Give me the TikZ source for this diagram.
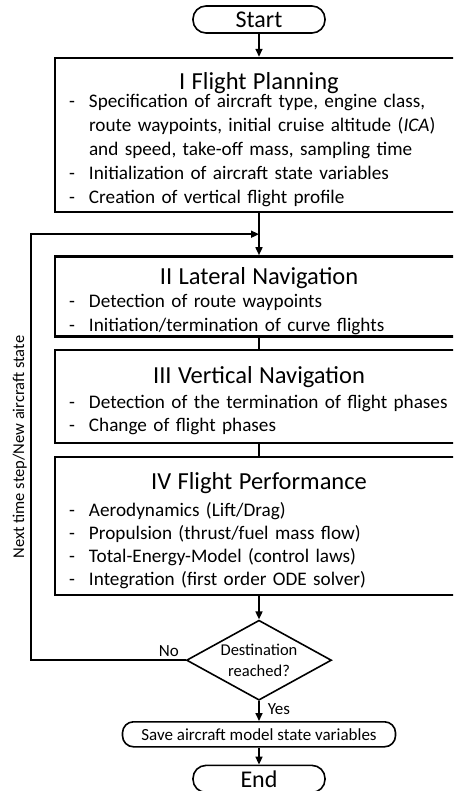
\documentclass[tikz,border=0pt]{standalone}
\usepackage{fontspec}
\setmainfont{Carlito}
\usetikzlibrary{arrows.meta,positioning,shapes.geometric}
\newcommand{\stagetitle}[2][0pt]{{\centering\fontsize{24.5}{24.5}\selectfont\rule{0pt}{26pt}#2\par}\vskip#1}
\newcommand{\stageitem}[1]{\par\hangindent=27pt\hangafter=1\noindent\makebox[27pt][l]{\hspace{7pt}-}#1}
\tikzset{
  stage/.style={
    draw,
    line width=2.4pt,
    text width=394pt,
    inner xsep=7pt,
    inner ysep=0pt,
    align=left,
    font=\fontsize{19.2}{24}\selectfont
  },
  terminal/.style={
    draw,
    line width=1.6pt,
    rounded corners=13pt,
    minimum width=132pt,
    minimum height=27pt,
    inner sep=0pt,
    font=\fontsize{24}{24}\selectfont
  },
  decision/.style={
    diamond,
    draw,
    line width=1.6pt,
    aspect=1.81,
    minimum width=145pt,
    minimum height=80pt,
    inner sep=0pt,
    align=center,
    font=\fontsize{16.5}{21}\selectfont
  },
  note/.style={
    font=\fontsize{17}{19}\selectfont,
    inner sep=3pt
  },
  flow/.style={
    -{Triangle[length=8pt,width=7pt]},
    line width=1.6pt
  },
  link/.style={
    line width=1.6pt
  }
}

\begin{document}
\begin{tikzpicture}[x=1pt,y=-1pt]
\clip (0,0) rectangle (453,791);
\node[terminal] (start) at (259,19.5) {Start};
\node[stage, minimum height=154pt, below=23pt of start] (plan) {%
  \stagetitle[-5.5pt]{I Flight Planning}
  \stageitem{Specification of aircraft type, engine class,\newline
    route waypoints, initial cruise altitude (\textit{ICA})\newline
    and speed, take-off mass, sampling time}
  \stageitem{Initialization of aircraft state variables}
  \stageitem{Creation of vertical flight profile}};
\node[stage, minimum height=80pt, below=42pt of plan] (lateral) {%
  \stagetitle[-1pt]{II Lateral Navigation}
  \stageitem{Detection of route waypoints}
  \stageitem{Initiation/termination of curve flights}};
\node[stage, minimum height=93pt, below=11pt of lateral,
  font=\fontsize{19.2}{23}\selectfont] (vertical) {%
  \stagetitle[2pt]{III Vertical Navigation}
  \stageitem{Detection of the termination of flight phases}
  \stageitem{Change of flight phases}};
\node[stage, minimum height=138pt, below=12pt of vertical,
  font=\fontsize{19.2}{23}\selectfont] (perf) {%
  \stagetitle[4pt]{IV Flight Performance}
  \stageitem{Aerodynamics (Lift/Drag)}
  \stageitem{Propulsion (thrust/fuel mass flow)}
  \stageitem{Total-Energy-Model (control laws)}
  \stageitem{Integration (first order ODE solver)}};
\node[decision, below=23pt of perf] (check) {Destination\\reached?};
\node[terminal, rounded corners=11pt, minimum width=273pt, minimum height=25pt,
  font=\fontsize{17}{19}\selectfont, below=20pt of check] (save) {Save aircraft model state variables};
\node[terminal, below=17pt of save] (end) {End};

% main sequence
\path (plan.south) -- (lateral.north) coordinate[midway] (join);
\draw[flow] (start) -- (plan);
\draw[flow] (plan) -- (lateral);
\draw[link] (lateral) -- (vertical);
\draw[link] (vertical) -- (perf);
\draw[flow] (perf) -- (check);
\draw[flow] (check) -- node[note, right, pos=0.4, xshift=5pt] {Yes} (save);
\draw[flow] (save) -- (end);

% loop back to the next time step
\draw[flow] (check.west) node[note, above left, xshift=-3pt] {No} -- ++(-155,0) coordinate (turn)
  -- (turn |- join) node[note, midway, sloped, above, font=\fontsize{16.5}{19}\selectfont] {Next time step/New aircraft state}
  -- (join);
\end{tikzpicture}
\end{document}
